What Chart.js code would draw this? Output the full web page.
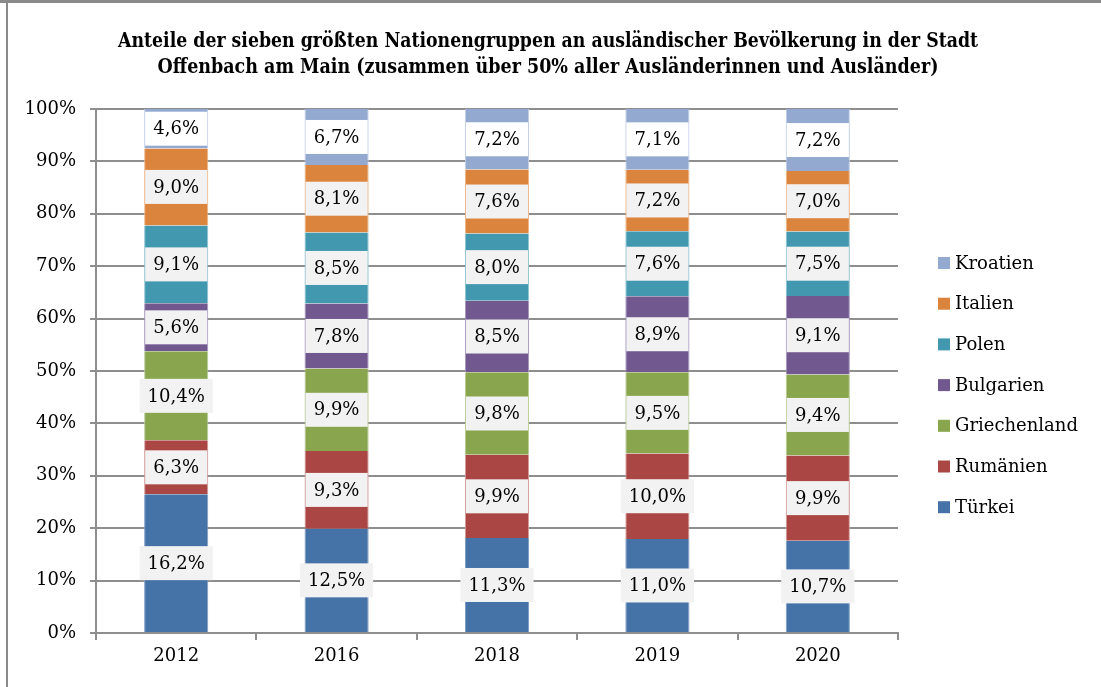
<!DOCTYPE html>
<html lang="de">
  <head>
    <meta charset="UTF-8" />
    <title>Nationengruppen Offenbach</title>
    <script src="https://cdn.jsdelivr.net/npm/chart.js"></script>
    <style>
      html, body { margin: 0; padding: 0; background: #fff; }
      #wrap { position: relative; width: 1101px; height: 687px; }
    </style>
  </head>
  <body>
    <div id="wrap"><canvas id="natChart" width="1101" height="687"></canvas></div>

    <script>
      // values (share of all foreigners, in %)
      const years = ["2012", "2016", "2018", "2019", "2020"];
      const tuerkei = [16.2, 12.5, 11.3, 11.0, 10.7];
      const rumaenien = [6.3, 9.3, 9.9, 10.0, 9.9];
      const griechenland = [10.4, 9.9, 9.8, 9.5, 9.4];
      const bulgarien = [5.6, 7.8, 8.5, 8.9, 9.1];
      const polen = [9.1, 8.5, 8.0, 7.6, 7.5];
      const italien = [9.0, 8.1, 7.6, 7.2, 7.0];
      const kroatien = [4.6, 6.7, 7.2, 7.1, 7.2];

      const seriesNames = ["Türkei", "Rumänien", "Griechenland", "Bulgarien", "Polen", "Italien", "Kroatien"];
      const seriesValues = [tuerkei, rumaenien, griechenland, bulgarien, polen, italien, kroatien];
      const seriesColors = ["#4572A7", "#AA4643", "#89A54E", "#71588F", "#4198AF", "#DB843D", "#93A9CF"];
      const edgeColors = ["#7d9cc4", "#d49c9a", "#b9cc96", "#a897c0", "#8fc3d3", "#f0b586", "#c0cfe8"];
      const labelFills = ["#f2f2f2", "#f2f2f2", "#f2f2f2", "#f2f2f2", "#f2f2f2", "#f2f2f2", "#ffffff"];

      const titleLines = [
        "Anteile der sieben größten Nationengruppen an ausländischer Bevölkerung in der Stadt",
        "Offenbach am Main (zusammen über 50% aller Ausländerinnen und Ausländer)",
      ];

      // 100% stacked: each column is scaled to its own total
      const totals = years.map((_, i) => seriesValues.reduce((acc, s) => acc + s[i], 0));

      const serif = "'DejaVu Serif', 'Liberation Serif', serif";
      const gridGray = "#8e8e8e";

      const extras = {
        id: "extras",
        beforeDraw(chart) {
          const ctx = chart.ctx;
          ctx.save();
          ctx.fillStyle = "#ffffff";
          ctx.fillRect(0, 0, chart.width, chart.height);
          // outer frame
          ctx.fillStyle = "#8a8a8a";
          ctx.fillRect(0, 0, chart.width, 3);
          ctx.fillRect(6, 0, 2, chart.height);
          ctx.restore();
        },
        afterDatasetsDraw(chart) {
          const ctx = chart.ctx;
          ctx.save();
          ctx.font = "18px " + serif;
          ctx.textAlign = "center";
          ctx.textBaseline = "middle";
          chart.data.datasets.forEach((ds, di) => {
            const meta = chart.getDatasetMeta(di);
            meta.data.forEach((bar, i) => {
              const txt = ds.raw[i].toFixed(1).replace(".", ",") + "%";
              let w = ctx.measureText(txt).width + 16;
              if (w < bar.width) w = bar.width - 2;
              const h = 34;
              const cy = (bar.y + bar.base) / 2;
              ctx.fillStyle = labelFills[di];
              ctx.fillRect(bar.x - w / 2, cy - h / 2, w, h);
              ctx.fillStyle = "#000";
              ctx.fillText(txt, bar.x, cy + 1);
            });
          });
          ctx.restore();
        },
        afterDraw(chart) {
          const ctx = chart.ctx;
          ctx.save();
          // title
          ctx.fillStyle = "#000";
          ctx.textAlign = "center";
          ctx.textBaseline = "middle";
          ctx.font = "bold 21px " + serif;
          ctx.fillText(titleLines[0], 548, 42, 860);
          ctx.fillText(titleLines[1], 548, 68, 781);

          // legend, reversed order
          ctx.font = "18px " + serif;
          ctx.textAlign = "left";
          const n = chart.data.datasets.length;
          for (let k = 0; k < n; k++) {
            const di = n - 1 - k;
            const y = 263 + k * 40.7;
            ctx.fillStyle = seriesColors[di];
            ctx.fillRect(938, y - 6, 12, 12);
            ctx.fillStyle = "#000";
            ctx.fillText(chart.data.datasets[di].label, 955, y + 1);
          }
          ctx.restore();
        },
      };

      const ctx = document.getElementById("natChart").getContext("2d");
      new Chart(ctx, {
        type: "bar",
        data: {
          labels: years,
          datasets: seriesNames.map((name, si) => ({
            label: name,
            raw: seriesValues[si],
            data: seriesValues[si].map((v, i) => (v / totals[i]) * 100),
            backgroundColor: seriesColors[si],
            borderColor: edgeColors[si],
            borderWidth: { left: 1, right: 1, top: 0, bottom: 0 },
            borderSkipped: false,
            categoryPercentage: 1.0,
            barPercentage: 0.4,
          })),
        },
        options: {
          responsive: false,
          animation: false,
          layout: { padding: { left: 0, right: 203, top: 109, bottom: 0 } },
          plugins: {
            legend: { display: false },
            title: { display: false },
            tooltip: { enabled: false },
          },
          scales: {
            x: {
              stacked: true,
              offset: true,
              grid: {
                display: true,
                drawOnChartArea: false,
                drawTicks: true,
                tickLength: 7,
                offset: true,
                color: gridGray,
                lineWidth: 2,
              },
              border: { display: true, color: gridGray, width: 2 },
              ticks: { color: "#000", font: { family: serif, size: 18 }, padding: 6 },
              afterFit(scale) { scale.height = 54; },
            },
            y: {
              stacked: true,
              min: 0,
              max: 100,
              ticks: {
                stepSize: 10,
                color: "#000",
                font: { family: serif, size: 18 },
                padding: 14,
                callback: (v) => v + "%",
              },
              grid: { color: gridGray, lineWidth: 2, tickLength: 6, drawTicks: true },
              border: { display: true, color: gridGray, width: 2 },
              afterFit(scale) { scale.width = 96; },
            },
          },
        },
        plugins: [extras],
      });
    </script>
  </body>
</html>
